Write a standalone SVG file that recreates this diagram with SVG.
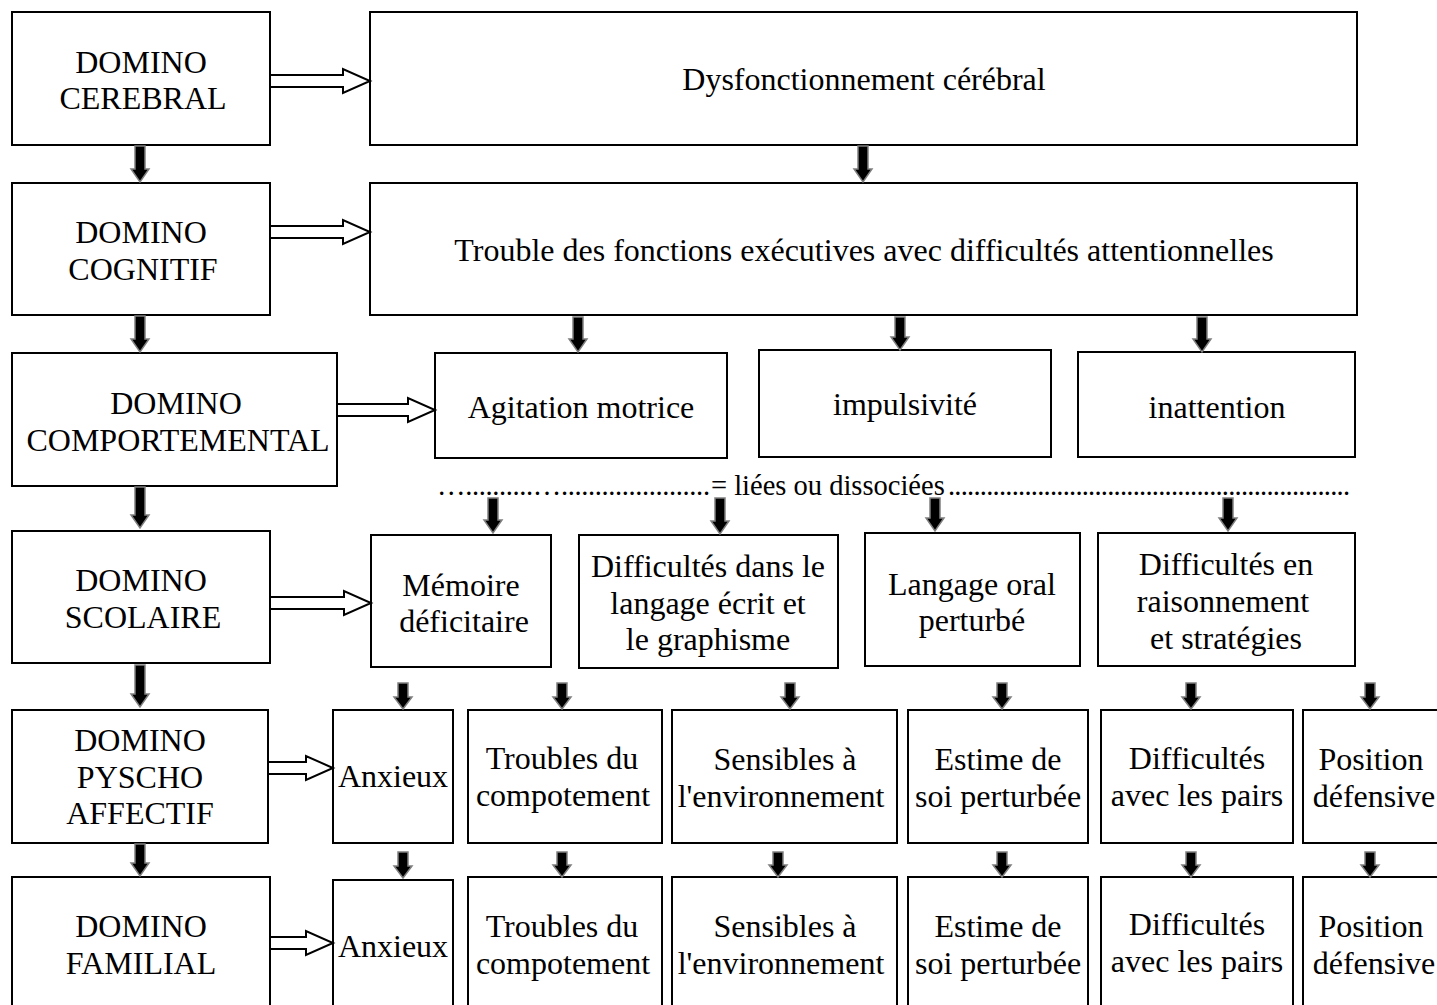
<svg xmlns="http://www.w3.org/2000/svg" width="1437" height="1005" viewBox="0 0 1437 1005">
<defs>
<style>
.b{fill:#fff;stroke:#000;stroke-width:2}
.t{font-family:"Liberation Serif","Times New Roman",serif;font-size:32px;fill:#000;text-anchor:middle}
.d{font-family:"Liberation Serif","Times New Roman",serif;font-size:28.5px;fill:#000}
.ha{fill:#fff;stroke:#000;stroke-width:2;stroke-linejoin:miter}
.da{fill:#000;stroke:#808080;stroke-width:1.5}
</style>
</defs>
<rect width="1437" height="1005" fill="#fff"/>
<g id="n_cerebral"><rect class="b" x="12" y="12" width="258" height="133"/><text class="t" x="141" y="73">DOMINO</text><text class="t" x="143" y="109">CEREBRAL</text></g>
<g id="n_cognitif"><rect class="b" x="12" y="183" width="258" height="132"/><text class="t" x="141" y="243">DOMINO</text><text class="t" x="143" y="280">COGNITIF</text></g>
<g id="n_comport"><rect class="b" x="12" y="353" width="325" height="133"/><text class="t" x="176" y="414">DOMINO</text><text class="t" x="178" y="451">COMPORTEMENTAL</text></g>
<g id="n_scolaire"><rect class="b" x="12" y="531" width="258" height="132"/><text class="t" x="141" y="591">DOMINO</text><text class="t" x="143" y="628">SCOLAIRE</text></g>
<g id="n_psycho"><rect class="b" x="12" y="710" width="256" height="133"/><text class="t" x="140" y="751">DOMINO</text><text class="t" x="140" y="788">PYSCHO</text><text class="t" x="140" y="824">AFFECTIF</text></g>
<g id="n_familial"><rect class="b" x="12" y="877" width="258" height="140"/><text class="t" x="141" y="937">DOMINO</text><text class="t" x="141" y="974">FAMILIAL</text></g>

<g id="n_dysf"><rect class="b" x="370" y="12" width="987" height="133"/><text class="t" x="864" y="90">Dysfonctionnement cérébral</text></g>
<g id="n_trouble"><rect class="b" x="370" y="183" width="987" height="132"/><text class="t" x="864" y="261">Trouble des fonctions exécutives avec difficultés attentionnelles</text></g>

<g id="n_agit"><rect class="b" x="435" y="353" width="292" height="105"/><text class="t" x="581" y="418">Agitation motrice</text></g>
<g id="n_impuls"><rect class="b" x="759" y="350" width="292" height="107"/><text class="t" x="905" y="415">impulsivité</text></g>
<g id="n_inatt"><rect class="b" x="1078" y="352" width="277" height="105"/><text class="t" x="1217" y="418">inattention</text></g>

<g id="n_memoire"><rect class="b" x="371" y="535" width="180" height="132"/><text class="t" x="461" y="596">Mémoire</text><text class="t" x="464" y="632">déficitaire</text></g>
<g id="n_ecrit"><rect class="b" x="579" y="535" width="259" height="133"/><text class="t" x="708" y="577">Difficultés dans le</text><text class="t" x="708" y="614">langage écrit et</text><text class="t" x="708" y="650">le graphisme</text></g>
<g id="n_oral"><rect class="b" x="865" y="533" width="215" height="133"/><text class="t" x="972" y="595">Langage oral</text><text class="t" x="972" y="631">perturbé</text></g>
<g id="n_raison"><rect class="b" x="1098" y="533" width="257" height="133"/><text class="t" x="1226" y="575">Difficultés en</text><text class="t" x="1223" y="612">raisonnement</text><text class="t" x="1226" y="649">et stratégies</text></g>

<g id="n_anx1"><rect class="b" x="333" y="710" width="120" height="133"/><text class="t" x="393" y="787">Anxieux</text></g>
<g id="n_tc1"><rect class="b" x="468" y="710" width="194" height="133"/><text class="t" x="562" y="769">Troubles du</text><text class="t" x="563" y="806">compotement</text></g>
<g id="n_se1"><rect class="b" x="672" y="710" width="225" height="133"/><text class="t" x="785" y="770">Sensibles à</text><text class="t" x="781" y="807">l'environnement</text></g>
<g id="n_es1"><rect class="b" x="908" y="710" width="180" height="133"/><text class="t" x="998" y="770">Estime de</text><text class="t" x="998" y="807">soi perturbée</text></g>
<g id="n_dp1"><rect class="b" x="1101" y="710" width="192" height="133"/><text class="t" x="1197" y="769">Difficultés</text><text class="t" x="1197" y="806">avec les pairs</text></g>
<g id="n_pd1"><rect class="b" x="1303" y="710" width="150" height="133"/><text class="t" x="1371" y="770">Position</text><text class="t" x="1374" y="807">défensive</text></g>

<g id="n_anx2"><rect class="b" x="333" y="880" width="120" height="140"/><text class="t" x="393" y="957">Anxieux</text></g>
<g id="n_tc2"><rect class="b" x="468" y="877" width="194" height="140"/><text class="t" x="562" y="937">Troubles du</text><text class="t" x="563" y="974">compotement</text></g>
<g id="n_se2"><rect class="b" x="672" y="877" width="225" height="140"/><text class="t" x="785" y="937">Sensibles à</text><text class="t" x="781" y="974">l'environnement</text></g>
<g id="n_es2"><rect class="b" x="908" y="877" width="180" height="140"/><text class="t" x="998" y="937">Estime de</text><text class="t" x="998" y="974">soi perturbée</text></g>
<g id="n_dp2"><rect class="b" x="1101" y="877" width="192" height="140"/><text class="t" x="1197" y="935">Difficultés</text><text class="t" x="1197" y="972">avec les pairs</text></g>
<g id="n_pd2"><rect class="b" x="1303" y="877" width="150" height="140"/><text class="t" x="1371" y="937">Position</text><text class="t" x="1374" y="974">défensive</text></g>

<text class="d" x="437" y="495" textLength="273" lengthAdjust="spacing">…..........…......................</text>
<text class="d" x="711" y="495">= liées ou dissociées</text>
<text class="d" x="948" y="495" textLength="402" lengthAdjust="spacing">...............................................................</text>

<g id="connectors">
<polygon class="ha" points="270,75 343,75 343,69 370,81 343,93 343,87 270,87"/>
<polygon class="ha" points="270,226 343,226 343,220 370,232 343,244 343,238 270,238"/>
<polygon class="ha" points="337,404 408,404 408,398 435,410 408,422 408,416 337,416"/>
<polygon class="ha" points="270,597 344,597 344,591 371,603 344,615 344,609 270,609"/>
<polygon class="ha" points="268,762 306,762 306,756 333,768 306,780 306,774 268,774"/>
<polygon class="ha" points="270,937 306,937 306,931 333,943 306,955 306,949 270,949"/>
<g class="da">
<path d="M135,146 H145 V169 H149 L140,182 L131,169 H135 Z"/>
<path d="M135,316 H145 V339 H149 L140,352 L131,339 H135 Z"/>
<path d="M135,487 H145 V515 H149 L140,528 L131,515 H135 Z"/>
<path d="M135,665 H145 V694 H149 L140,707 L131,694 H135 Z"/>
<path d="M135,844 H145 V863 H149 L140,876 L131,863 H135 Z"/>
<path d="M858,146 H868 V169 H872 L863,182 L854,169 H858 Z"/>
<path d="M573,317 H583 V339 H587 L578,352 L569,339 H573 Z"/>
<path d="M895,317 H905 V337 H909 L900,350 L891,337 H895 Z"/>
<path d="M1197,317 H1207 V339 H1211 L1202,352 L1193,339 H1197 Z"/>
<path d="M488,498 H498 V520 H502 L493,533 L484,520 H488 Z"/>
<path d="M715,498 H725 V521 H729 L720,534 L711,521 H715 Z"/>
<path d="M930,498 H940 V518 H944 L935,531 L926,518 H930 Z"/>
<path d="M1223,498 H1233 V518 H1237 L1228,531 L1219,518 H1223 Z"/>
<path d="M398,683 H408 V697 H412 L403,709 L394,697 H398 Z"/>
<path d="M557,683 H567 V697 H571 L562,709 L553,697 H557 Z"/>
<path d="M785,683 H795 V697 H799 L790,709 L781,697 H785 Z"/>
<path d="M997,683 H1007 V697 H1011 L1002,709 L993,697 H997 Z"/>
<path d="M1186,683 H1196 V697 H1200 L1191,709 L1182,697 H1186 Z"/>
<path d="M1365,683 H1375 V697 H1379 L1370,709 L1361,697 H1365 Z"/>
<path d="M398,852 H408 V866 H412 L403,878 L394,866 H398 Z"/>
<path d="M557,852 H567 V865 H571 L562,877 L553,865 H557 Z"/>
<path d="M773,852 H783 V865 H787 L778,877 L769,865 H773 Z"/>
<path d="M997,852 H1007 V865 H1011 L1002,877 L993,865 H997 Z"/>
<path d="M1186,852 H1196 V865 H1200 L1191,877 L1182,865 H1186 Z"/>
<path d="M1365,852 H1375 V865 H1379 L1370,877 L1361,865 H1365 Z"/>
</g>
</g>
</svg>
